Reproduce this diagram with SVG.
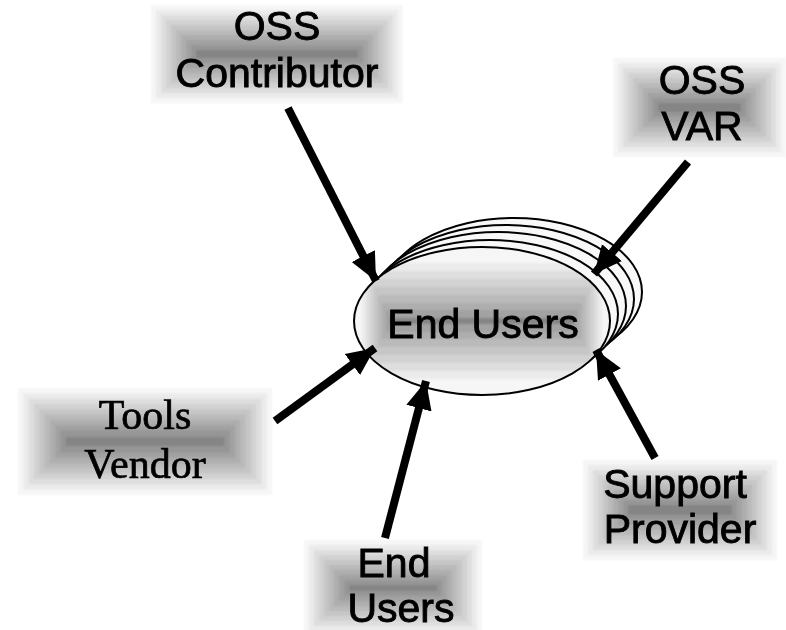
<svg xmlns="http://www.w3.org/2000/svg" width="786" height="630" viewBox="0 0 786 630">
<style>
.s0{fill:#f6f6f6}.s1{fill:#ebebeb}.s2{fill:#dedede}.s3{fill:#d2d2d2}.s4{fill:#c6c6c6}.s5{fill:#bababa}.s6{fill:#aeaeae}.s7{fill:#a2a2a2}.s8{fill:#969696}.s9{fill:#858585}
.bands{filter:url(#soft)}
text{fill:#000;stroke:#000;stroke-width:.9;font-size:41px;text-anchor:middle;font-family:"Liberation Sans",Arial,sans-serif;filter:url(#crisp)}
text.serif{font-family:"Liberation Serif","Times New Roman",serif;font-size:42px;stroke-width:.7}
.conn{stroke:#000;stroke-width:8;fill:none}
.ring{fill:#f8f8f8;stroke:#000;stroke-width:2}
.edge{fill:none;stroke:#000;stroke-width:2}
</style>
<defs>
<filter id="soft" x="-5%" y="-5%" width="110%" height="110%"><feGaussianBlur stdDeviation="1.3"/></filter>
<filter id="crisp" x="-5%" y="-10%" width="110%" height="120%"><feGaussianBlur stdDeviation="0.5"/></filter>
<marker id="head" markerUnits="userSpaceOnUse" markerWidth="30" markerHeight="30" refX="28" refY="15" orient="auto"><path d="M0,2 L28,15 L0,28 Z" fill="#000"/></marker>
<clipPath id="oval"><ellipse cx="482" cy="321" rx="128" ry="74"/></clipPath>
</defs>
<g id="node-contributor">
<g class="bands"><rect class="s0" x="151" y="5" width="252" height="98"/><rect class="s1" x="156" y="10" width="242" height="88"/><rect class="s2" x="161" y="15" width="232" height="78"/><rect class="s3" x="166" y="20" width="222" height="68"/><rect class="s4" x="171" y="25" width="212" height="58"/><rect class="s5" x="176" y="30" width="202" height="48"/><rect class="s6" x="181" y="35" width="192" height="38"/><rect class="s7" x="186" y="40" width="182" height="28"/><rect class="s8" x="191" y="45" width="172" height="18"/><rect class="s9" x="196" y="50" width="162" height="8"/></g>
<text x="277" y="40">OSS</text><text x="277" y="87">Contributor</text>
</g>
<g id="node-var">
<g class="bands"><rect class="s0" x="613" y="58" width="173" height="99"/><rect class="s1" x="618" y="63" width="163" height="89"/><rect class="s2" x="623" y="68" width="153" height="79"/><rect class="s3" x="628" y="73" width="143" height="69"/><rect class="s4" x="633" y="78" width="133" height="59"/><rect class="s5" x="638" y="83" width="123" height="49"/><rect class="s6" x="643" y="88" width="113" height="39"/><rect class="s7" x="648" y="93" width="103" height="29"/><rect class="s8" x="653" y="98" width="93" height="19"/><rect class="s9" x="658" y="103" width="83" height="9"/></g>
<text x="702" y="94">OSS</text><text x="702" y="140">VAR</text>
</g>
<g id="node-tools">
<g class="bands"><rect class="s0" x="18" y="388" width="254" height="107"/><rect class="s1" x="23.300" y="393.300" width="243.400" height="96.400"/><rect class="s2" x="28.600" y="398.600" width="232.800" height="85.800"/><rect class="s3" x="33.900" y="403.900" width="222.200" height="75.200"/><rect class="s4" x="39.200" y="409.200" width="211.600" height="64.600"/><rect class="s5" x="44.500" y="414.500" width="201" height="54"/><rect class="s6" x="49.800" y="419.800" width="190.400" height="43.400"/><rect class="s7" x="55.100" y="425.100" width="179.800" height="32.800"/><rect class="s8" x="60.400" y="430.400" width="169.200" height="22.200"/><rect class="s9" x="65.700" y="437" width="158.600" height="9"/></g>
<text class="serif" x="145" y="429">Tools</text><text class="serif" x="145" y="478">Vendor</text>
</g>
<g id="node-endusers-small">
<g class="bands"><rect class="s0" x="304" y="540" width="178" height="96"/><rect class="s1" x="309" y="545" width="168" height="86"/><rect class="s2" x="314" y="550" width="158" height="76"/><rect class="s3" x="319" y="555" width="148" height="66"/><rect class="s4" x="324" y="560" width="138" height="56"/><rect class="s5" x="329" y="565" width="128" height="46"/><rect class="s6" x="334" y="570" width="118" height="36"/><rect class="s7" x="339" y="575" width="108" height="26"/><rect class="s8" x="344" y="580" width="98" height="16"/><rect class="s9" x="349" y="585" width="88" height="6"/></g>
<text x="394" y="577">End</text><text x="401" y="622">Users</text>
</g>
<g id="node-support">
<g class="bands"><rect class="s0" x="583" y="460" width="194" height="100"/><rect class="s1" x="588" y="465" width="184" height="90"/><rect class="s2" x="593" y="470" width="174" height="80"/><rect class="s3" x="598" y="475" width="164" height="70"/><rect class="s4" x="603" y="480" width="154" height="60"/><rect class="s5" x="608" y="485" width="144" height="50"/><rect class="s6" x="613" y="490" width="134" height="40"/><rect class="s7" x="618" y="495" width="124" height="30"/><rect class="s8" x="623" y="500" width="114" height="20"/><rect class="s9" x="628" y="505" width="104" height="10"/></g>
<text x="675" y="498">Support</text><text x="680" y="543">Provider</text>
</g>
<g id="node-endusers-main">
<ellipse class="ring" cx="514" cy="292" rx="128" ry="74"/><ellipse class="ring" cx="506" cy="299" rx="128" ry="74"/><ellipse class="ring" cx="498" cy="306" rx="128" ry="74"/><ellipse class="ring" cx="490" cy="314" rx="128" ry="74"/>
<ellipse cx="482" cy="321" rx="128" ry="74" fill="#fff"/>
<g clip-path="url(#oval)"><g class="bands">
<rect class="s0" x="354" y="247" width="256" height="148"/><rect class="s0" x="358" y="255" width="248" height="132"/><rect class="s1" x="362" y="263" width="240" height="116"/><rect class="s2" x="366" y="271" width="232" height="100"/><rect class="s3" x="370" y="279" width="224" height="84"/><rect class="s4" x="374" y="287" width="216" height="68"/><rect class="s5" x="378" y="295" width="208" height="52"/><rect class="s6" x="382" y="303" width="200" height="36"/><rect class="s7" x="386" y="310" width="192" height="22"/><rect class="s9" x="390" y="318" width="184" height="6"/>
</g></g>
<ellipse class="edge" cx="482" cy="321" rx="128" ry="74"/>
<text x="483" y="338">End Users</text>
</g>
<g id="connectors">
<line class="conn" x1="288" y1="108" x2="376" y2="281" marker-end="url(#head)"/>
<line class="conn" x1="688" y1="162" x2="594" y2="274" marker-end="url(#head)"/>
<line class="conn" x1="275" y1="421" x2="375" y2="348" marker-end="url(#head)"/>
<line class="conn" x1="385" y1="538" x2="426" y2="381" marker-end="url(#head)"/>
<line class="conn" x1="655" y1="458" x2="596" y2="350" marker-end="url(#head)"/>
</g>
</svg>
